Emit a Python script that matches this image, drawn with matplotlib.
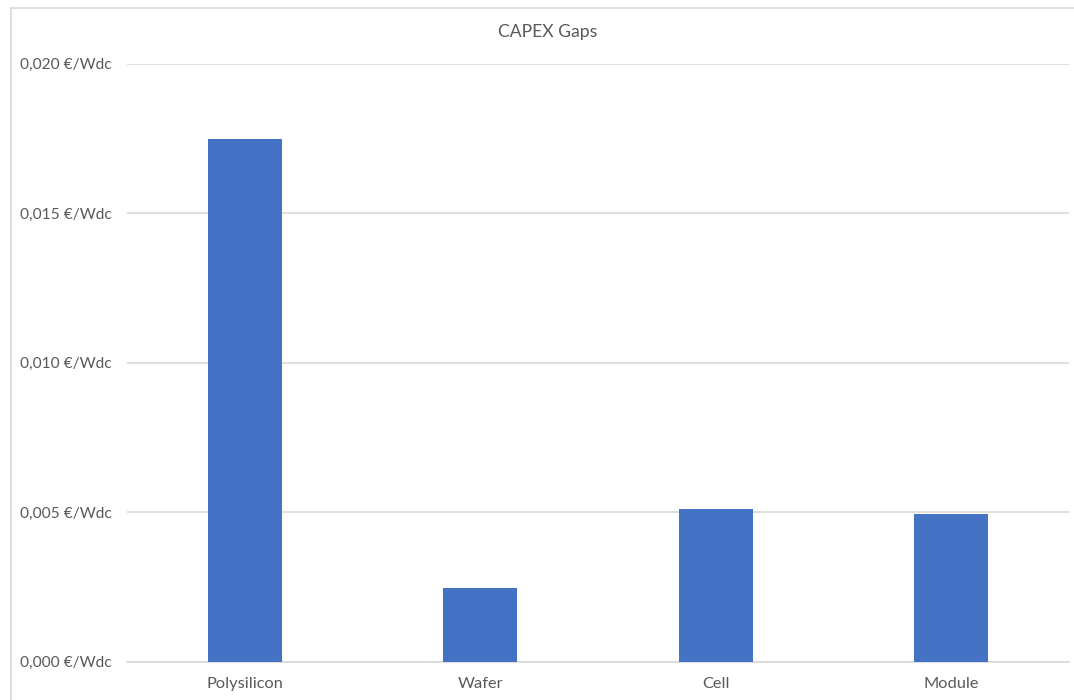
import matplotlib.pyplot as plt
from matplotlib.lines import Line2D
from matplotlib.ticker import FuncFormatter, MultipleLocator

# CAPEX gap per production step, in €/Wdc
steps = ["Polysilicon", "Wafer", "Cell", "Module"]
gaps = [0.01748, 0.00246, 0.00510, 0.00494]

BAR_BLUE = "#4472C4"
TEXT_GREY = "#595959"
GRID_GREY = "#D9D9D9"

plt.rcParams["font.family"] = ["Lato", "DejaVu Sans"]

W, H = 1074, 700
fig = plt.figure(figsize=(W / 100, H / 100), dpi=100)
ax = fig.add_axes([127.4 / W, 1 - 661.7 / H, (1068.6 - 127.4) / W, (661.7 - 63.7) / H])

ax.bar(range(len(steps)), gaps, width=0.315, color=BAR_BLUE, zorder=3)

ax.set_xlim(-0.5, len(steps) - 0.5)
ax.set_ylim(0, 0.020)
ax.yaxis.set_major_locator(MultipleLocator(0.005))
ax.yaxis.set_major_formatter(
    FuncFormatter(lambda v, _: f"{v:.3f}".replace(".", ",") + " €/Wdc"))
ax.set_xticks(range(len(steps)))
ax.set_xticklabels(steps)

ax.grid(axis="y", color=GRID_GREY, linewidth=1.2, zorder=0)
for s in ["top", "right", "left"]:
    ax.spines[s].set_visible(False)
ax.spines["bottom"].set_color(GRID_GREY)
ax.spines["bottom"].set_linewidth(1.2)
ax.tick_params(axis="both", length=0, labelcolor=TEXT_GREY)
ax.tick_params(axis="y", pad=11, labelsize=11.2)
ax.tick_params(axis="x", pad=11, labelsize=11.8)

# chart frame (left and top edges visible)
fig.add_artist(Line2D([10.5 / W, 10.5 / W], [0, 1 - 7.5 / H],
                      transform=fig.transFigure, color=GRID_GREY, linewidth=1.2))
fig.add_artist(Line2D([10.5 / W, 1], [1 - 7.5 / H, 1 - 7.5 / H],
                      transform=fig.transFigure, color=GRID_GREY, linewidth=1.2))

fig.text(547.5 / W, 1 - 32 / H, "CAPEX Gaps", ha="center", va="center",
         fontsize=12.6, color=TEXT_GREY)

fig.savefig("out.png", dpi=100)
